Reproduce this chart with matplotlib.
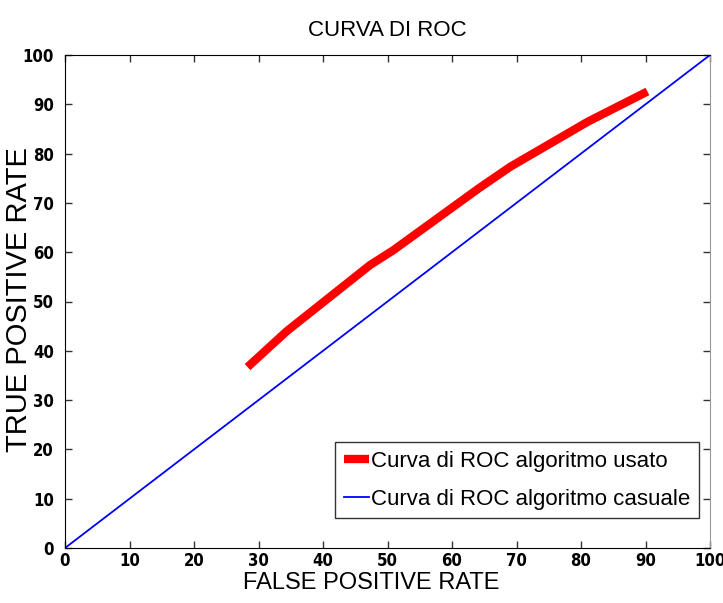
import matplotlib
matplotlib.use("Agg")
import matplotlib.pyplot as plt

fpr_used = [28.3, 34.4, 47.3, 50.9, 64.1, 69.0, 81.1, 90.3]
tpr_used = [36.7, 44.0, 57.4, 60.4, 72.9, 77.3, 86.5, 92.6]
fpr_rand = [0, 100]
tpr_rand = [0, 100]
ticks = list(range(0, 101, 10))

fig = plt.figure(figsize=(7.23, 6.03), dpi=100)
ax = fig.add_axes([65/723, 1-548/603, (710-65)/723, (548-55)/603])

ax.plot(fpr_used, tpr_used, color='#ff0000', lw=6, label='Curva di ROC algoritmo usato', solid_capstyle='butt')
ax.plot(fpr_rand, tpr_rand, color='#0000ff', lw=1.3, label='Curva di ROC algoritmo casuale')

ax.set_xlim(0, 100)
ax.set_ylim(0, 100)
ax.set_xticks(ticks)
ax.set_yticks(ticks)
tickfont = dict(family=['DejaVu Sans'], stretch='condensed', weight='bold', size=12)
ax.set_xticklabels([str(t) for t in ticks], fontdict=tickfont)
ax.set_yticklabels([str(t) for t in ticks], fontdict=tickfont)
ax.tick_params(direction='in', top=True, right=True, length=5, width=1, colors='#333333', labelcolor='black')
ax.tick_params(axis='y', pad=8)
ax.tick_params(axis='x', pad=3)
for s in ['top', 'left', 'bottom']:
    ax.spines[s].set_color('black')
ax.spines['right'].set_color('#999999')

ax.set_xlabel('FALSE POSITIVE RATE', fontsize=17, family=['Liberation Sans'])
ax.xaxis.set_label_coords((371-65)/645, -(572-548)/493)
ax.set_ylabel('TRUE POSITIVE RATE', fontsize=21, family=['Liberation Sans'])
ax.yaxis.set_label_coords((33-65)/645, (548-300)/493)
ax.set_title('CURVA DI ROC', fontsize=16, family=['Liberation Sans'], pad=14)

leg = ax.legend(loc='lower right', bbox_to_anchor=(0.983, 0.06), prop=dict(family=['Liberation Sans'], size=16),
                fancybox=False, edgecolor='black', handlelength=1.1, handletextpad=0.1, borderpad=0.4, labelspacing=0.75,
                borderaxespad=0)
leg.get_frame().set_linewidth(1)

fig.savefig('out.png', dpi=100)
